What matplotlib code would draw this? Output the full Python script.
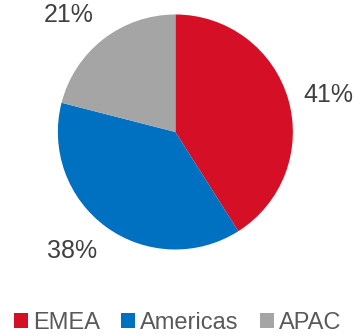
import matplotlib.pyplot as plt
from matplotlib.patches import Patch

regions = ["EMEA", "Americas", "APAC"]
shares = [41, 38, 21]
colors = ["#D50F25", "#0070C0", "#A5A5A5"]
pct_labels = [f"{s}%" for s in shares]

plt.rcParams['font.family'] = ['Liberation Sans', 'DejaVu Sans']

fig = plt.figure(figsize=(3.55, 3.35), dpi=100)
ax = fig.add_axes([0.163, 0.255, 0.662, 0.702])

wedges, texts = ax.pie(shares, labels=pct_labels, colors=colors, startangle=90,
                       counterclock=False, labeldistance=1.13,
                       textprops=dict(fontsize=18, color="#404040"))
# push the lower-left label down and the upper-left one up, away from the pie
texts[1].set_verticalalignment('top')
texts[2].set_verticalalignment('bottom')
ax.set_xlim(-1, 1)
ax.set_ylim(-1, 1)
ax.set_aspect('equal')

handles = [Patch(facecolor=c, edgecolor='none') for c in colors]
fig.legend(handles, regions, loc='center', bbox_to_anchor=(0.5, 0.035),
           ncol=3, frameon=False, fontsize=17, labelcolor="#595959",
           handlelength=0.6, handleheight=0.6, handletextpad=0.2,
           columnspacing=0.9)

fig.savefig('out.png', dpi=100)
